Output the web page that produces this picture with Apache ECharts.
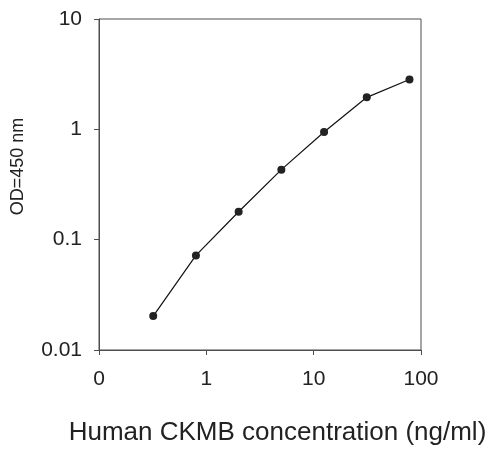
<!DOCTYPE html>
<html>
<head>
<meta charset="utf-8">
<style>
  html, body { margin: 0; padding: 0; background: #fff; }
  #main { width: 500px; height: 453px; }
</style>
<script src="https://cdn.jsdelivr.net/npm/echarts@6/dist/echarts.min.js"></script>
</head>
<body>
<div id="main"></div>
<script type="text/javascript">
  // standard curve
  var concentration = [0.32, 0.8, 2, 5, 12.5, 31.25, 78.1];
  var od450 = [0.0203, 0.072, 0.179, 0.431, 0.946, 1.95, 2.83];

  var xTickValues = [0.1, 1, 10, 100];
  var xTickLabels = ['0', '1', '10', '100'];
  var yTickValues = [0.01, 0.1, 1, 10];
  var yTickLabels = ['0.01', '0.1', '1', '10'];

  function pickLabel(values, labels, v) {
    for (var i = 0; i < values.length; i++) {
      if (Math.abs(Math.log10(v) - Math.log10(values[i])) < 1e-6) return labels[i];
    }
    return '';
  }

  var points = [];
  for (var i = 0; i < concentration.length; i++) {
    points.push([concentration[i], od450[i]]);
  }

  var axisColor = '#4d4d4d';
  var font = 'Liberation Sans, Arial, sans-serif';

  var myChart = echarts.init(document.getElementById('main'));
  var option = {
    animation: false,
    grid: {
      left: 99, right: 79, top: 19, bottom: 103,
      show: true, borderColor: axisColor, borderWidth: 1
    },
    xAxis: {
      type: 'log', logBase: 10, min: 0.1, max: 100,
      name: 'Human CKMB concentration (ng/ml)',
      nameLocation: 'middle', nameGap: 70,
      nameTextStyle: { fontSize: 26, color: '#222', fontFamily: font, padding: [0, 0, 0, 35] },
      axisLine: { lineStyle: { color: axisColor, width: 1 } },
      axisTick: { show: true, inside: false, length: 5, lineStyle: { color: axisColor } },
      minorTick: { show: false },
      splitLine: { show: false },
      axisLabel: {
        fontSize: 21, color: '#222', fontFamily: font, margin: 19,
        formatter: function (v) { return pickLabel(xTickValues, xTickLabels, v); }
      }
    },
    yAxis: {
      type: 'log', logBase: 10, min: 0.01, max: 10,
      name: 'OD=450 nm',
      nameLocation: 'middle', nameGap: 72,
      nameTextStyle: { fontSize: 18, color: '#222', fontFamily: font, padding: [0, 0, 0, 36] },
      axisLine: { show: true, lineStyle: { color: axisColor, width: 1 } },
      axisTick: { show: true, inside: false, length: 5, lineStyle: { color: axisColor } },
      splitLine: { show: false },
      axisLabel: {
        fontSize: 21, color: '#222', fontFamily: font, margin: 17,
        formatter: function (v) { return pickLabel(yTickValues, yTickLabels, v); }
      }
    },
    series: [{
      type: 'line',
      data: points,
      symbol: 'circle',
      symbolSize: 8,
      itemStyle: { color: '#222' },
      lineStyle: { color: '#111', width: 1.2 }
    }]
  };
  myChart.setOption(option);
</script>
</body>
</html>
